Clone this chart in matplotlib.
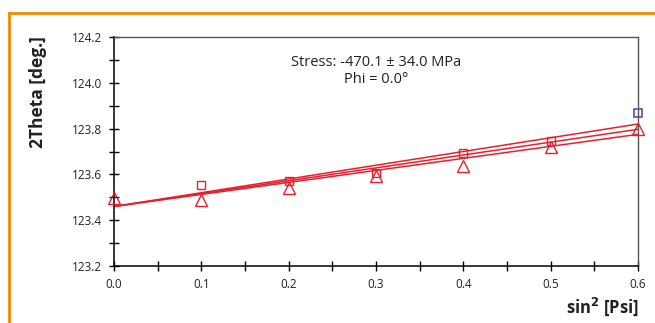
import matplotlib.pyplot as plt
from matplotlib.lines import Line2D
from matplotlib.ticker import MultipleLocator

plt.rcParams['font.family'] = ['Open Sans', 'DejaVu Sans']

# measured points
sq_x = [0.1, 0.2, 0.3, 0.4, 0.5]
sq_y = [123.555, 123.573, 123.607, 123.692, 123.747]
sq_last_x = [0.6]
sq_last_y = [123.867]
tri_x = [0.0, 0.1, 0.2, 0.3, 0.4, 0.5, 0.6]
tri_y = [123.497, 123.49, 123.542, 123.595, 123.637, 123.721, 123.798]

# fit lines (start, end)
fit_x = [0.0, 0.6]
fit_upper = [123.46, 123.82]
fit_mid = [123.46, 123.797]
fit_lower = [123.46, 123.775]

red = '#e8202e'

fig = plt.figure(figsize=(6.55, 3.23), dpi=100)
ax = fig.add_axes([114 / 655, 1 - 266 / 323, 524 / 655, 229 / 323])

for fy in (fit_upper, fit_mid, fit_lower):
    ax.plot(fit_x, fy, color=red, lw=1.1, zorder=2)

ax.plot(sq_x, sq_y, ls='none', marker='s', ms=6, mfc='none', mec=red, mew=1.0, zorder=3)
ax.plot(sq_last_x, sq_last_y, ls='none', marker='s', ms=6, mfc='none', mec='#5a4fa0', mew=1.2,
        zorder=3, clip_on=False)
ax.plot(tri_x, tri_y, ls='none', marker='^', ms=8, mfc='none', mec=red, mew=1.0, zorder=3,
        clip_on=False)

ax.set_xlim(0, 0.6)
ax.set_ylim(123.2, 124.2)
ax.xaxis.set_major_locator(MultipleLocator(0.1))
ax.xaxis.set_minor_locator(MultipleLocator(0.05))
ax.yaxis.set_major_locator(MultipleLocator(0.2))
ax.yaxis.set_minor_locator(MultipleLocator(0.1))
ax.xaxis.set_major_formatter(lambda v, p: f'{v:.1f}')
ax.yaxis.set_major_formatter(lambda v, p: f'{v:.1f}')
ax.tick_params(which='both', direction='inout', length=7, width=1.0, color='black',
               labelsize=8.5, labelcolor='#222222', top=False, right=False)
ax.tick_params(axis='x', pad=5)
ax.tick_params(axis='y', pad=5)

for s in ('left', 'bottom'):
    ax.spines[s].set_color('black')
    ax.spines[s].set_linewidth(1.1)
for s in ('top', 'right'):
    ax.spines[s].set_color('#555555')
    ax.spines[s].set_linewidth(1.0)

ax.text(0.5, 0.852, 'Stress: -470.1 \u00b1 34.0 MPa\nPhi = 0.0\u00b0', transform=ax.transAxes,
        ha='center', va='center', fontsize=10.5, linespacing=1.2, color='#222222')

fig.text(38 / 655, 1 - 36 / 323, '2Theta [deg.]', rotation=90, ha='center', va='top',
         fontsize=12.5, fontweight='bold', color='#222222')
fig.text(639 / 655, 1 - 313 / 323, 'sin$^{\\mathbf{2}}$ [Psi]', ha='right', va='baseline',
         fontsize=12, fontweight='bold', color='#222222')

# orange frame (top and left edges)
orange = '#f08a00'
fig.add_artist(Line2D([9 / 655, 1], [1 - 13 / 323, 1 - 13 / 323], color=orange, lw=2,
                      transform=fig.transFigure))
fig.add_artist(Line2D([9 / 655, 9 / 655], [0, 1 - 13 / 323], color=orange, lw=2,
                      transform=fig.transFigure))

fig.savefig('out.png', dpi=100)
